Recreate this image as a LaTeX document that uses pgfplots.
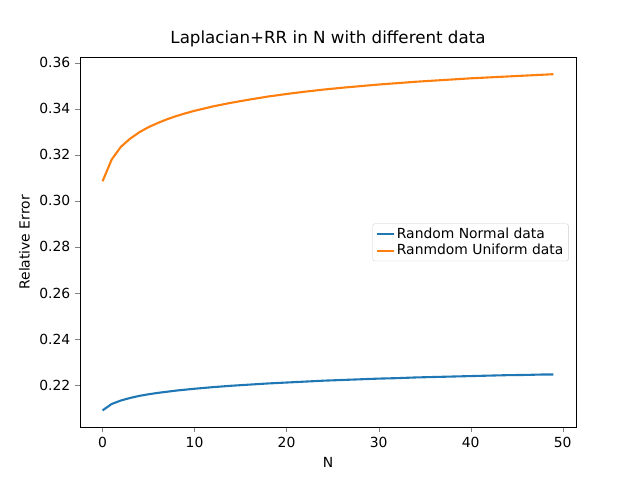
\documentclass[border=0pt]{standalone}
\usepackage{pgfplots}
\pgfplotsset{compat=1.18}
\usepackage{fontspec}
\setmainfont{DejaVu Sans}
\definecolor{C0}{HTML}{1F77B4}
\definecolor{C1}{HTML}{FF7F0E}
\begin{document}
\fontsize{13.9}{16}\selectfont
\begin{tikzpicture}
\useasboundingbox (-80pt,-52.8pt) rectangle (560pt,427.2pt);
\begin{axis}[at={(0,0)},anchor=south west,scale only axis,width=496pt,height=369.6pt,
 xmin=-2.45,xmax=51.45,ymin=0.2017,ymax=0.3622,
 xtick={0,10,...,50},ytick={0.22,0.24,...,0.36},
 yticklabel style={/pgf/number format/.cd,fixed,fixed zerofill,precision=2},
 /pgf/number format/assume math mode=true,
 tick align=outside,tick pos=left,major tick length=4.9pt,
 title={\fontsize{16.7}{18}\selectfont Laplacian+RR in N with different data},
 xlabel={N},ylabel={Relative Error},
 legend style={at={(0.985,0.5)},anchor=east,draw=black!20,rounded corners=2pt,font=\fontsize{13.9}{16}\selectfont,cells={anchor=west}},
 legend cell align=left]
\addplot[C0,line width=2.1pt] coordinates {(0,.209)(1,.2118)(2,.2133)(3,.2144)(4,.2153)(5,.216)(6,.2166)(7,.2171)(8,.2176)(9,.218)(10,.2184)(12,.2191)(14,.2197)(16,.2202)(18,.2207)(20,.2211)(22,.2215)(24,.2219)(26,.2222)(28,.2225)(30,.2228)(32,.223)(34,.2233)(36,.2235)(38,.2237)(40,.2239)(42,.2241)(44,.2243)(46,.2244)(48,.2246)(49,.2246)};
\addlegendentry{Random Normal data}
\addplot[C1,line width=2.1pt] coordinates {(0,.3085)(1,.318)(2,.3235)(3,.327)(4,.3298)(5,.332)(6,.3338)(7,.3354)(8,.3368)(9,.338)(10,.3391)(12,.341)(14,.3426)(16,.344)(18,.3453)(20,.3464)(22,.3474)(24,.3483)(26,.3491)(28,.3498)(30,.3505)(32,.3511)(34,.3517)(36,.3522)(38,.3527)(40,.3532)(42,.3536)(44,.354)(46,.3544)(48,.3548)(49,.355)};
\addlegendentry{Ranmdom Uniform data}
\end{axis}
\end{tikzpicture}
\end{document}
